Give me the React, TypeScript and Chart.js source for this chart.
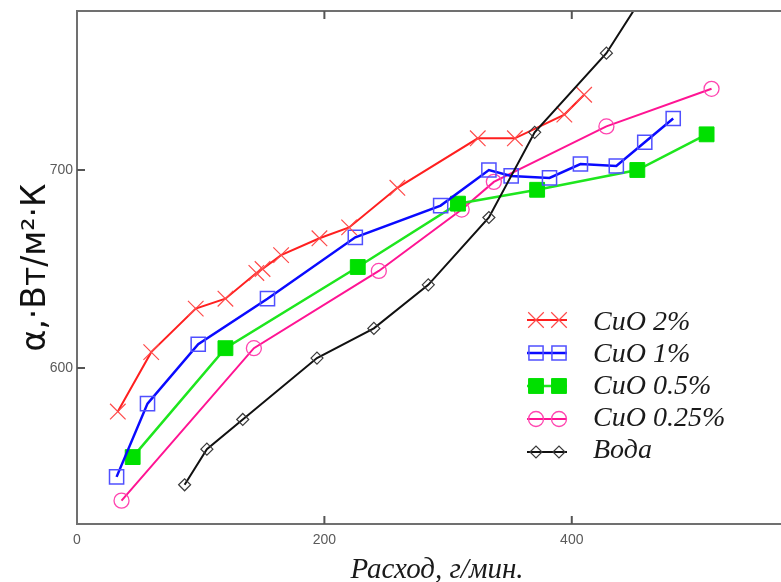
import React, { useEffect, useRef } from 'react';
import { Chart, registerables } from 'chart.js';

Chart.register(...registerables);

const seriesNames = ['CuO 2%', 'CuO 1%', 'CuO 0.5%', 'CuO 0.25%', 'Вода'];

const cuo2X = [33, 60, 96, 120, 145, 150, 165, 196, 220, 259, 324, 354, 394, 410];
const cuo2Y = [578, 608, 630, 635, 648, 650, 657, 665.5, 671, 691, 716, 716, 728, 738];
const cuo1X = [32, 57, 98, 154, 225, 294, 333, 351, 382, 407, 436, 459, 482];
const cuo1Y = [545, 582, 612, 635, 666, 682, 700, 697, 696, 703, 702, 714, 726];
const cuo05X = [45, 120, 227, 308, 372, 453, 509];
const cuo05Y = [555, 610, 651, 683, 690, 700, 718];
const cuo025X = [36, 143, 244, 311, 337, 428, 513];
const cuo025Y = [533, 610, 649, 680, 694, 722, 741];
const waterX = [87, 105, 134, 194, 240, 284, 333, 370, 428, 470];
const waterY = [541, 559, 574, 605, 620, 642, 676, 719, 759, 800];

const xTicks = [0, 200, 400];
const yTicks = [600, 700];

const xTitle = 'Расход, г/мин.';
const yTitle = 'α,·Вт/м²·К';

const zip = (xs: number[], ys: number[]) => xs.map((x, i) => ({ x, y: ys[i] }));

type Mk = { style: string; r: number; fill: string; stroke: string; lw: number };

function drawMarker(ctx: CanvasRenderingContext2D, m: Mk, x: number, y: number) {
  ctx.save();
  ctx.lineWidth = m.lw;
  ctx.strokeStyle = m.stroke;
  ctx.fillStyle = m.fill;
  ctx.beginPath();
  const r = m.r;
  if (m.style === 'crossRot') {
    const o = r * Math.SQRT1_2;
    ctx.moveTo(x - o, y - o);
    ctx.lineTo(x + o, y + o);
    ctx.moveTo(x - o, y + o);
    ctx.lineTo(x + o, y - o);
    ctx.stroke();
  } else if (m.style === 'rect') {
    const s = r * Math.SQRT1_2;
    ctx.rect(x - s, y - s, 2 * s, 2 * s);
    ctx.fill();
    ctx.stroke();
  } else if (m.style === 'circle') {
    ctx.arc(x, y, r, 0, Math.PI * 2);
    ctx.fill();
    ctx.stroke();
  } else if (m.style === 'rectRot') {
    ctx.moveTo(x - r, y);
    ctx.lineTo(x, y - r);
    ctx.lineTo(x + r, y);
    ctx.lineTo(x, y + r);
    ctx.closePath();
    ctx.fill();
    ctx.stroke();
  }
  ctx.restore();
}

const frameAndLegend = {
  id: 'frameAndLegend',
  afterDatasetsDraw(chart: any) {
    const { ctx, chartArea: a, scales } = chart;
    const xs = scales.x;
    const ys = scales.y;
    ctx.save();
    ctx.strokeStyle = '#707070';
    ctx.lineWidth = 2;
    ctx.beginPath();
    ctx.rect(a.left, a.top, a.right - a.left, a.bottom - a.top);
    ctx.stroke();
    ctx.strokeStyle = '#555';
    ctx.beginPath();
    xTicks.forEach((v) => {
      if (v === xs.min) return;
      const px = xs.getPixelForValue(v);
      ctx.moveTo(px, a.bottom);
      ctx.lineTo(px, a.bottom - 8);
      ctx.moveTo(px, a.top);
      ctx.lineTo(px, a.top + 8);
    });
    yTicks.forEach((v) => {
      const py = ys.getPixelForValue(v);
      ctx.moveTo(a.left, py);
      ctx.lineTo(a.left + 8, py);
    });
    ctx.stroke();

    // x-axis title
    ctx.fillStyle = '#1a1a1a';
    ctx.font = 'italic 29px "Liberation Serif", "Times New Roman", serif';
    ctx.textAlign = 'center';
    ctx.textBaseline = 'alphabetic';
    ctx.fillText(xTitle, 437, 578);

    // legend
    const order = [1, 2, 3, 4, 0];
    order.forEach((di, row) => {
      const ds = chart.data.datasets[di];
      const my = 320 + row * 33;
      const ty = 330 + row * 32;
      ctx.save();
      ctx.strokeStyle = ds.borderColor;
      ctx.lineWidth = ds.borderWidth;
      ctx.beginPath();
      ctx.moveTo(527, my);
      ctx.lineTo(567, my);
      ctx.stroke();
      ctx.restore();
      const mk: Mk = {
        style: ds.pointStyle,
        r: ds.pointRadius,
        fill: ds.pointBackgroundColor,
        stroke: ds.pointBorderColor,
        lw: ds.pointBorderWidth,
      };
      drawMarker(ctx, mk, 536, my);
      drawMarker(ctx, mk, 559, my);
      ctx.fillStyle = '#1a1a1a';
      ctx.font = 'italic 28px "Liberation Serif", "Times New Roman", serif';
      ctx.textBaseline = 'alphabetic';
      ctx.textAlign = 'left';
      ctx.fillText(ds.label, 593, ty);
    });
    ctx.restore();
  },
};

export default function App() {
  const ref = useRef<HTMLCanvasElement | null>(null);

  useEffect(() => {
    if (!ref.current) return;
    const chart = new Chart(ref.current, {
      type: 'line',
      data: {
        datasets: [
          {
            label: seriesNames[4],
            data: zip(waterX, waterY),
            borderColor: '#111111',
            borderWidth: 2,
            pointStyle: 'rectRot',
            pointRadius: 6,
            pointBorderColor: '#3a3a3a',
            pointBorderWidth: 1.2,
            pointBackgroundColor: 'rgba(255,255,255,0)',
            order: 0,
          },
          {
            label: seriesNames[0],
            data: zip(cuo2X, cuo2Y),
            borderColor: '#ff1f1f',
            borderWidth: 2,
            pointStyle: 'crossRot',
            pointRadius: 11,
            pointBorderColor: '#ff4a4a',
            pointBorderWidth: 1.2,
            pointBackgroundColor: 'rgba(255,255,255,0)',
            order: 1,
          },
          {
            label: seriesNames[1],
            data: zip(cuo1X, cuo1Y),
            borderColor: '#0a0aff',
            borderWidth: 2.5,
            pointStyle: 'rect',
            pointRadius: 10,
            pointBorderColor: '#5050ff',
            pointBorderWidth: 1.5,
            pointBackgroundColor: 'rgba(255,255,255,0)',
            order: 2,
          },
          {
            label: seriesNames[2],
            data: zip(cuo05X, cuo05Y),
            borderColor: '#1ee61e',
            borderWidth: 2.5,
            pointStyle: 'rect',
            pointRadius: 10.5,
            pointBorderColor: '#00e000',
            pointBorderWidth: 1,
            pointBackgroundColor: '#00e000',
            order: 3,
          },
          {
            label: seriesNames[3],
            data: zip(cuo025X, cuo025Y),
            borderColor: '#ff1493',
            borderWidth: 2,
            pointStyle: 'circle',
            pointRadius: 7.5,
            pointBorderColor: '#ff45b0',
            pointBorderWidth: 1.3,
            pointBackgroundColor: 'rgba(255,255,255,0)',
            order: 4,
          },
        ],
      },
      options: {
        animation: false,
        responsive: false,
        devicePixelRatio: 1,
        layout: { autoPadding: false, padding: { top: 11, right: 3, left: 0, bottom: 0 } },
        plugins: { legend: { display: false }, tooltip: { enabled: false } },
        elements: { line: { tension: 0 } },
        scales: {
          x: {
            type: 'linear',
            min: 0,
            max: 574,
            grid: { display: false, drawTicks: true, tickLength: 8 },
            border: { display: false },
            afterBuildTicks: (s: any) => {
              s.ticks = xTicks.map((v) => ({ value: v }));
            },
            afterFit: (s: any) => {
              s.height = 58;
              s.paddingLeft = 0;
              s.paddingRight = 0;
            },
            ticks: {
              autoSkip: false,
              maxRotation: 0,
              padding: 0,
              color: '#5a5a5a',
              font: { family: '"Liberation Sans", Arial, sans-serif', size: 14 },
              callback: (v: any) => String(v),
            },
            title: { display: false },
          },
          y: {
            type: 'linear',
            min: 521.2,
            max: 780.3,
            grid: { display: false, drawTicks: false },
            border: { display: false },
            afterBuildTicks: (s: any) => {
              s.ticks = yTicks.map((v) => ({ value: v }));
            },
            afterFit: (s: any) => {
              s.width = 77;
              s.paddingTop = 0;
              s.paddingBottom = 0;
            },
            ticks: {
              autoSkip: false,
              padding: 4,
              color: '#5a5a5a',
              font: { family: '"Liberation Sans", Arial, sans-serif', size: 14 },
              callback: (v: any) => String(v),
            },
            title: {
              display: true,
              text: yTitle,
              color: '#111111',
              font: { family: '"DejaVu Sans", Verdana, sans-serif', size: 33, lineHeight: 1.2 },
              padding: { top: 17, bottom: 0 },
            },
          },
        },
      } as any,
      plugins: [frameAndLegend],
    });
    return () => chart.destroy();
  }, []);

  return (
    <div
      style={{
        position: 'fixed',
        left: 0,
        top: 0,
        width: 781,
        height: 582,
        overflow: 'hidden',
        background: '#ffffff',
      }}
    >
      <canvas ref={ref} width={790} height={582} style={{ display: 'block', width: 790, height: 582 }} />
    </div>
  );
}
